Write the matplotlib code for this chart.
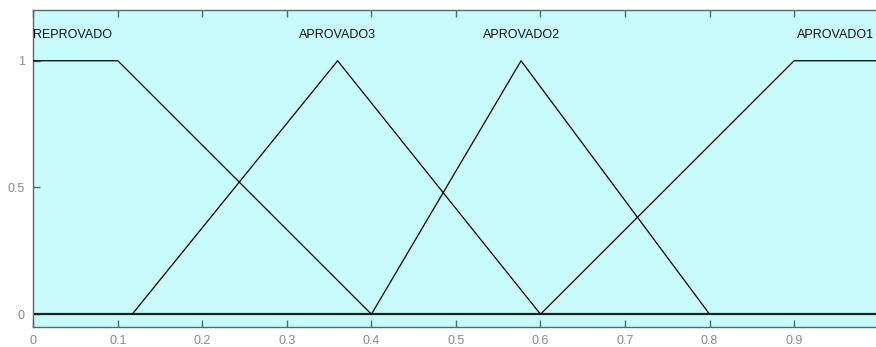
import matplotlib
matplotlib.use("Agg")
import matplotlib.pyplot as plt
import numpy as np

# membership functions: name -> breakpoints (x) and degrees (y)
mf_names = ["REPROVADO", "APROVADO3", "APROVADO2", "APROVADO1"]
mf_x = [
    [0.0, 0.1, 0.4],
    [0.117, 0.36, 0.6],
    [0.4, 0.577, 0.8],
    [0.6, 0.9, 1.0],
]
mf_y = [
    [1, 1, 0],
    [0, 1, 0],
    [0, 1, 0],
    [0, 1, 1],
]
# where each name is written
label_x = [0.0, 0.36, 0.577, 0.995]
label_ha = ["left", "center", "center", "right"]
label_y = 1.1

xticks = [0, 0.1, 0.2, 0.3, 0.4, 0.5, 0.6, 0.7, 0.8, 0.9]
yticks = [0, 0.5, 1]

plt.rcParams["font.family"] = ["Liberation Sans", "DejaVu Sans"]

fig = plt.figure(figsize=(8.76, 3.47), dpi=100)
ax = fig.add_axes([0.038, 0.058, 0.965, 0.913])
ax.set_facecolor("#c8fcfc")

ax.axhline(0, color="#222222", linewidth=1.6, zorder=2)
for xs, ys in zip(mf_x, mf_y):
    ax.plot(xs, ys, color="black", linewidth=0.9, zorder=3)

for name, lx, ha in zip(mf_names, label_x, label_ha):
    ax.text(lx, label_y, name, ha=ha, va="center", fontsize=9, color="#111111")

ax.set_xlim(0, 1)
ax.set_ylim(-0.05, 1.2)
ax.set_xticks(xticks)
ax.set_xticklabels([f"{t:g}" for t in xticks])
ax.set_yticks(yticks)
ax.set_yticklabels([f"{t:g}" for t in yticks])

spine_color = "#4f6b6b"
for side, sp in ax.spines.items():
    sp.set_color(spine_color)
    sp.set_linewidth(1.0)
ax.spines["right"].set_visible(False)

ax.tick_params(direction="in", length=5, width=1, color=spine_color,
               labelcolor="#8a8a8a", labelsize=9, top=True, right=False,
               pad=6)

fig.savefig("out.png", dpi=100)
